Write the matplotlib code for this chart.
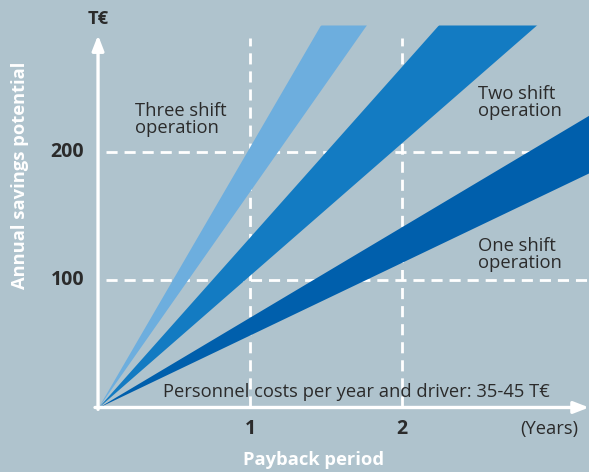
import numpy as np
import matplotlib
matplotlib.use("Agg")
import matplotlib.pyplot as plt

plt.rcParams['font.family'] = ['Open Sans', 'DejaVu Sans']

# savings per year of payback (T€ per year) -> upper / lower edge of each band
shifts = ['Three shift', 'Two shift', 'One shift']
slope_hi = [205, 134, 71]
slope_lo = [170, 104, 57]
colors = ['#6daede', '#137bc2', '#005fac']
y_cap = 300  # bands cut off at top

x_ticks = [1, 2]
y_ticks = [100, 200]

bg = '#afc3cd'
txt = '#2b2b2b'
fs = 13.2

fig = plt.figure(figsize=(5.89, 4.72), dpi=100, facecolor=bg)
ax = fig.add_axes([0, 0, 1, 1], facecolor=bg)
ax.set_xlim(-0.645, 3.23)
ax.set_ylim(-50.6, 319.6)
ax.axis('off')

# dashed grid
for xv in x_ticks:
    ax.plot([xv, xv], [0, 290], color='white', lw=2, ls=(0, (4, 2.5)), zorder=1)
for yv in y_ticks:
    ax.plot([0.05, 3.23], [yv, yv], color='white', lw=2, ls=(0, (4, 2.5)), zorder=1)

# bands
x = np.linspace(0, 3.3, 500)
for hi, lo, c in zip(slope_hi, slope_lo, colors):
    ax.fill_between(x, np.minimum(lo * x, y_cap), np.minimum(hi * x, y_cap),
                    color=c, lw=0, zorder=2)

# axes with arrows
arrow = dict(arrowstyle='-|>,head_length=0.9,head_width=0.35', color='white', lw=2.4,
             shrinkA=0, shrinkB=0)
ax.annotate('', xy=(3.23, 0), xytext=(-0.02, 0), arrowprops=arrow, zorder=3)
ax.annotate('', xy=(0, 292), xytext=(0, -1.5), arrowprops=arrow, zorder=3)

# tick labels
for yv in y_ticks:
    ax.text(-0.09, yv, str(yv), ha='right', va='center', fontsize=14,
            fontweight='bold', color=txt)
for xv in x_ticks:
    ax.text(xv, -16.5, str(xv), ha='center', va='center', fontsize=14,
            fontweight='bold', color=txt)
ax.text(2.97, -16.5, '(Years)', ha='center', va='center', fontsize=fs, color=txt)
ax.text(0.0, 305, 'T€', ha='center', va='center', fontsize=fs,
        fontweight='bold', color=txt)

# axis titles
ax.text(-0.515, 182, 'Annual savings potential', rotation=90, ha='center',
        va='center', fontsize=fs, fontweight='bold', color='white')
ax.text(1.42, -41.5, 'Payback period', ha='center', va='center', fontsize=fs,
        fontweight='bold', color='white')

# band labels
ax.text(0.24, 226, 'Three shift\noperation', ha='left', va='center', fontsize=fs,
        color=txt, linespacing=0.9)
ax.text(2.5, 239, 'Two shift\noperation', ha='left', va='center', fontsize=fs,
        color=txt, linespacing=0.9)
ax.text(2.5, 120, 'One shift\noperation', ha='left', va='center', fontsize=fs,
        color=txt, linespacing=0.9)
ax.text(0.43, 12, 'Personnel costs per year and driver: 35-45 T€', ha='left',
        va='center', fontsize=fs, color=txt)

fig.savefig('out.png', dpi=100, facecolor=bg)
